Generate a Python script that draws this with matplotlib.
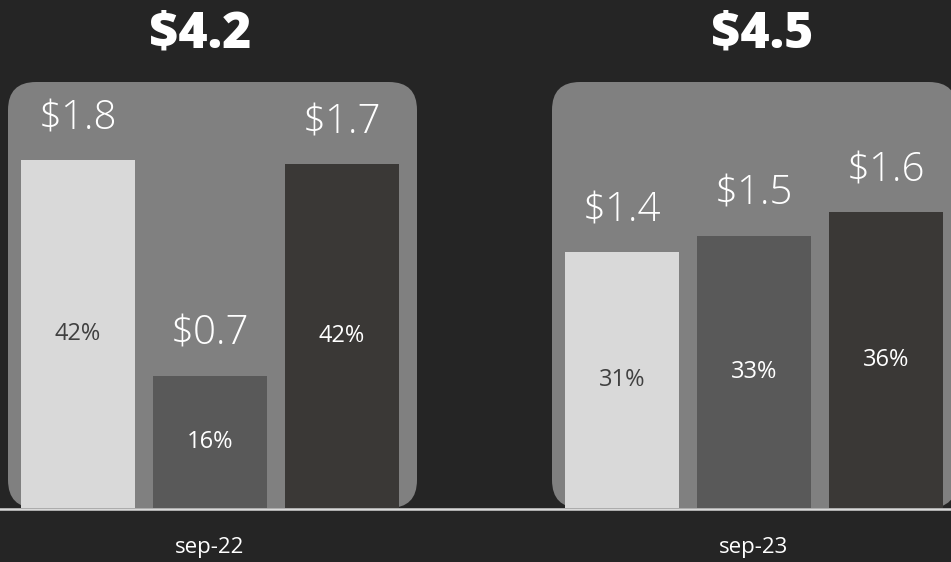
import matplotlib.pyplot as plt
from matplotlib.patches import FancyBboxPatch

# data (USD billions)
periods = ["sep-22", "sep-23"]
values_sep22 = [1.76, 0.67, 1.74]
values_sep23 = [1.40, 1.49, 1.62]
ylim_tops = [2.157, 2.333]  # each panel was scaled on its own

BG = "#252525"
PANEL = "#808080"
BAR_COLORS = ["#D9D9D9", "#595959", "#3A3836"]
PCT_COLORS = ["#404040", "white", "white"]

W, H = 951, 562
plt.rcParams["font.family"] = ["Open Sans", "DejaVu Sans"]

fig = plt.figure(figsize=(W / 100, H / 100), dpi=100, facecolor=BG)

# panel placement in pixels: (left, width), shared top/bottom
panel_x = [(8, 409), (552, 405)]
panel_top, panel_bottom = 82, 508
bar_left_offset = 70  # px from panel left to first bar centre
radius = 28


def px_box(left, top, width, height):
    return [left / W, 1 - (top + height) / H, width / W, height / H]


for i, (period, values) in enumerate(zip(periods, [values_sep22, values_sep23])):
    left, width = panel_x[i]
    height = panel_bottom - panel_top

    # rounded grey card behind the bars
    card = FancyBboxPatch(
        (left / W, 1 - panel_bottom / H),
        width / W,
        height / H,
        boxstyle=f"round,pad=0,rounding_size={radius / W}",
        mutation_aspect=W / H,
        transform=fig.transFigure,
        facecolor=PANEL,
        edgecolor="none",
        zorder=0,
    )
    fig.patches.append(card)

    ax = fig.add_axes(px_box(left, panel_top, width, height))
    ax.set_zorder(1)
    ax.set_facecolor("none")
    unit = 132.0  # px between bar centres
    x0 = -bar_left_offset / unit
    ax.set_xlim(x0, x0 + width / unit)
    ax.set_ylim(0, ylim_tops[i])
    ax.axis("off")

    xs = list(range(len(values)))
    total = sum(values)
    ax.bar(xs, values, width=0.87, color=BAR_COLORS, zorder=2)

    for x, v, pc in zip(xs, values, PCT_COLORS):
        ax.annotate(
            f"${v:.1f}",
            (x, v),
            xytext=(0, 30),
            textcoords="offset points",
            ha="center",
            va="center",
            fontsize=29,
            fontweight="light",
            color="white",
        )
        ax.text(
            x, v / 2, f"{v / total:.0%}",
            ha="center", va="center", fontsize=17, color=pc,
        )

    # bold total above each card
    centre = (left + width / 2) / W
    fig.text(
        centre - (12 if i == 0 else -8) / W,
        1 - 34 / H,
        f"${total:.1f}",
        ha="center",
        va="center",
        fontsize=36,
        fontweight="heavy",
        color="white",
    )
    fig.text(
        (left + bar_left_offset + unit) / W,
        1 - 548 / H,
        period,
        ha="center",
        va="center",
        fontsize=16,
        color="white",
    )

# baseline across the whole figure
fig.add_artist(
    plt.Line2D([0, 1], [1 - 508.5 / H] * 2, transform=fig.transFigure,
               color="#D9D9D9", linewidth=1.8, zorder=3)
)

fig.savefig("out.png", dpi=100, facecolor=BG)
